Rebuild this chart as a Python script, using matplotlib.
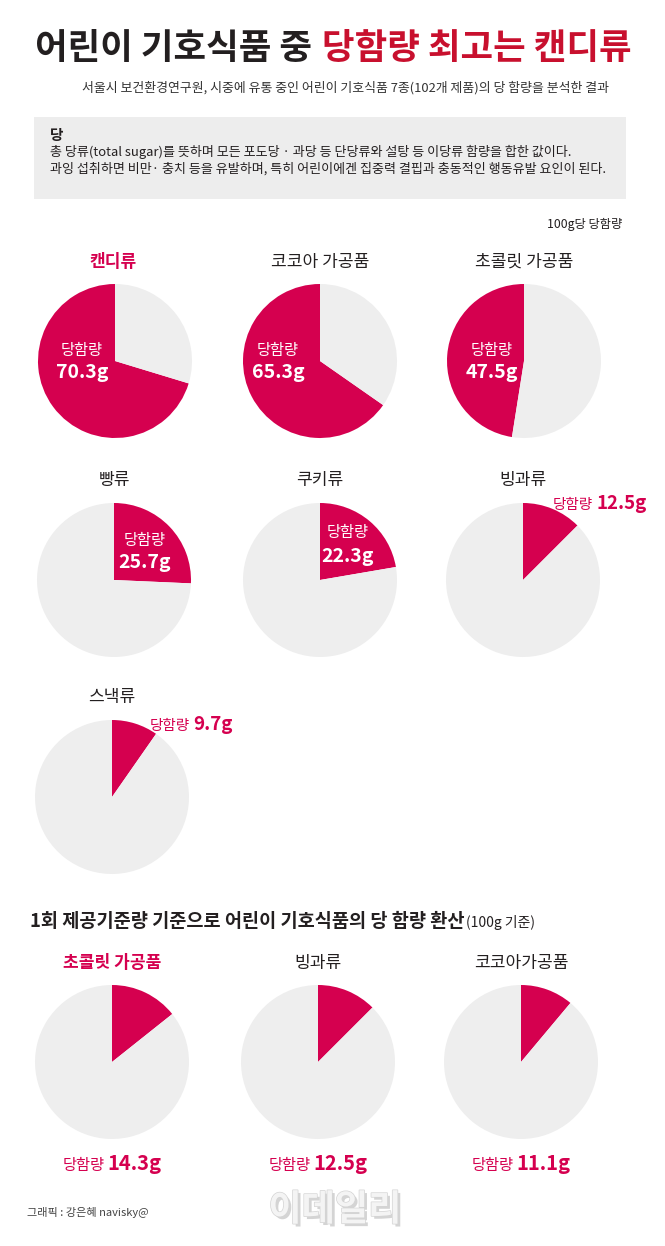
import matplotlib
matplotlib.use("Agg")
import matplotlib.pyplot as plt
import matplotlib.patheffects as pe
from matplotlib.patches import Rectangle

plt.rcParams["font.family"] = ["Noto Sans CJK KR", "DejaVu Sans"]

# 100g당 당함량
categories = ["캔디류", "코코아 가공품", "초콜릿 가공품", "빵류", "쿠키류", "빙과류", "스낵류"]
sugar_100g = [70.3, 65.3, 47.5, 25.7, 22.3, 12.5, 9.7]

# 1회 제공기준량 기준 (100g 기준 환산)
serving_categories = ["초콜릿 가공품", "빙과류", "코코아가공품"]
sugar_serving = [14.3, 12.5, 11.1]

W, H = 665, 1246
RED = "#d5004f"
TITLE_RED = "#c8102e"
GREY = "#eeeeee"
DARK = "#231f20"
R = 77

# 레이아웃 (픽셀)
centers_top = [(115, 361), (320, 361), (524, 361), (114, 580), (320, 580), (523, 580), (112, 797)]
title_y_top = [262, 262, 262, 480, 480, 480, 697]
# 안쪽 라벨 위치: (x 오프셋, "당함량" y 오프셋) / 바깥 라벨: (x, 기준선 y)
inner_pos = {0: (-33, -11), 1: (-42, -11), 2: (-32, -11), 3: (31, -40), 4: (28, -47)}
outer_pos = {5: (553, 509), 6: (150, 730)}
centers_bottom = [(112, 1062), (318, 1062), (521, 1062)]

fig = plt.figure(figsize=(W / 100, H / 100), dpi=100)
fig.patch.set_facecolor("white")


def add_pie(cx, cy, value):
    pax = fig.add_axes([(cx - R) / W, 1 - (cy + R) / H, 2 * R / W, 2 * R / H])
    pax.pie([value, 100 - value], colors=[RED, GREY], startangle=90,
            counterclock=value > 40, radius=1, wedgeprops=dict(linewidth=0))
    pax.set_xlim(-1, 1)
    pax.set_ylim(-1, 1)
    pax.set_aspect("equal")
    pax.axis("off")


for (cx, cy), v in zip(centers_top, sugar_100g):
    add_pie(cx, cy, v)
for (cx, cy), v in zip(centers_bottom, sugar_serving):
    add_pie(cx, cy, v)

# 텍스트용 전체 축
ax = fig.add_axes([0, 0, 1, 1])
ax.set_xlim(0, W)
ax.set_ylim(H, 0)
ax.axis("off")
ax.set_zorder(10)

renderer = fig.canvas.get_renderer()


def draw_runs(x, y, runs, ha="center"):
    """여러 스타일의 글자를 한 줄로 이어서 그림 (기준선 y)"""
    items = []
    total = 0
    for s, kw, gap in runs:
        t = ax.text(0, y, s, va="baseline", ha="left", **kw)
        w = t.get_window_extent(renderer).width
        items.append((t, w, gap))
        total += w + gap
    x0 = x - total / 2 if ha == "center" else x
    for t, w, gap in items:
        t.set_x(x0)
        x0 += w + gap


# 제목
draw_runs(333, 59, [("어린이 기호식품 중", dict(fontsize=25.5, fontweight="bold", color=DARK), 10),
                    ("당함량 최고는 캔디류", dict(fontsize=25.5, fontweight="bold", color=TITLE_RED), 0)])
ax.text(346, 88, "서울시 보건환경연구원, 시중에 유통 중인 어린이 기호식품 7종(102개 제품)의 당 함량을 분석한 결과",
        fontsize=9.3, color="#333333", ha="center", va="center")

# 설명 박스
ax.add_patch(Rectangle((34, 117), 592, 82, facecolor="#ededed", edgecolor="none"))
ax.text(50, 135, "당", fontsize=10.5, fontweight="bold", color=DARK, va="center")
ax.text(50, 152, "총 당류(total sugar)를 뜻하며 모든 포도당 · 과당 등 단당류와 설탕 등 이당류 함량을 합한 값이다.",
        fontsize=9.4, color=DARK, va="center")
ax.text(50, 169, "과잉 섭취하면 비만· 충치 등을 유발하며, 특히 어린이에겐 집중력 결핍과 충동적인 행동유발 요인이 된다.",
        fontsize=9.4, color=DARK, va="center")
ax.text(622, 224, "100g당 당함량", fontsize=8.8, color=DARK, ha="right", va="center")

# 100g당 당함량 파이 라벨
for i, (name, v) in enumerate(zip(categories, sugar_100g)):
    cx, cy = centers_top[i]
    if i == 0:
        ax.text(cx - 2, title_y_top[i], name, fontsize=12.3, fontweight="bold", color=RED,
                ha="center", va="center")
    else:
        ax.text(cx, title_y_top[i], name, fontsize=12.3, color=DARK, ha="center", va="center")
    if i in inner_pos:
        dx, dy = inner_pos[i]
        ax.text(cx + dx, cy + dy, "당함량", fontsize=11, color="white", ha="center", va="center")
        ax.text(cx + dx, cy + dy + 23, f"{v}g", fontsize=14, fontweight="bold", color="white",
                ha="center", va="center")
    else:
        lx, ly = outer_pos[i]
        draw_runs(lx, ly, [("당함량", dict(fontsize=10.5, color=RED), 3),
                           (f"{v}g", dict(fontsize=13.5, fontweight="bold", color=RED), 0)], ha="left")

# 1회 제공기준량 섹션
draw_runs(30, 927, [("1회 제공기준량 기준으로 어린이 기호식품의 당 함량 환산",
                     dict(fontsize=13.4, fontweight="bold", color=DARK), 1),
                    ("(100g 기준)", dict(fontsize=10, color=DARK), 0)], ha="left")

for i, (name, v) in enumerate(zip(serving_categories, sugar_serving)):
    cx, cy = centers_bottom[i]
    if i == 0:
        ax.text(cx, 963, name, fontsize=12.3, fontweight="bold", color=RED, ha="center", va="center")
    else:
        ax.text(cx, 963, name, fontsize=12.3, color=DARK, ha="center", va="center")
    draw_runs(cx, 1170, [("당함량", dict(fontsize=11, color=RED), 3),
                         (f"{v}g", dict(fontsize=14.5, fontweight="bold", color=RED), 0)])

# 출처 / 워터마크
ax.text(27, 1213, "그래픽 : 강은혜 navisky@", fontsize=8, color="#444444", va="center")
ax.text(335, 1210, "이데일리", fontsize=26, fontweight="bold", color="#f4f4f4",
        ha="center", va="center",
        path_effects=[pe.SimplePatchShadow(offset=(2, -2), shadow_rgbFace="#b8b8b8", alpha=0.6),
                      pe.Stroke(linewidth=1, foreground="#d4d4d4"), pe.Normal()])

fig.savefig("out.png", dpi=100, facecolor="white")
